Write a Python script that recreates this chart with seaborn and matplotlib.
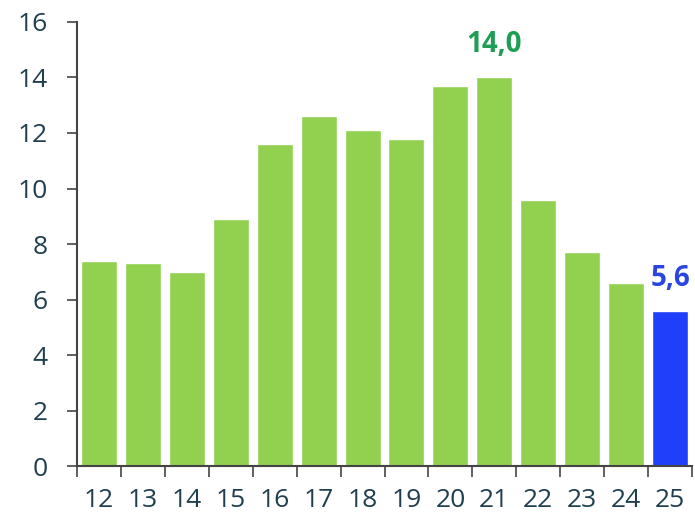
import numpy as np
import pandas as pd
import matplotlib
matplotlib.use("Agg")
import matplotlib.pyplot as plt
import seaborn as sns

# Data
years = ['12', '13', '14', '15', '16', '17', '18', '19', '20', '21', '22', '23', '24', '25']
values = [7.4, 7.3, 7.0, 8.9, 11.6, 12.6, 12.1, 11.8, 13.7, 14.0, 9.6, 7.7, 6.6, 5.6]
kind = ['past'] * 13 + ['current']

green = '#92D050'
blue = '#1F3FFA'
text_col = '#1F3F4F'

sns.set_theme(style="white")
plt.rcParams['font.family'] = ['Open Sans', 'DejaVu Sans']

df = pd.DataFrame({'year': years, 'value': values, 'kind': kind})

fig = plt.figure(figsize=(6.95, 5.15), dpi=100)
ax = fig.add_axes([0.1108, 0.0951, 0.8849, 0.8622])

sns.barplot(data=df, x='year', y='value', hue='kind', order=years,
            palette={'past': green, 'current': blue}, dodge=False,
            width=0.82, saturation=1, legend=False, ax=ax)

ax.set_xlim(-0.5, len(years) - 0.5)
ax.set_ylim(0, 16)
ax.set_yticks(np.arange(0, 17, 2))
ax.set_xlabel('')
ax.set_ylabel('')

# tick marks between categories, labels centred under bars
ax.set_xticks(np.arange(len(years)))
ax.set_xticklabels(years)
ax.set_xticks(np.arange(len(years) + 1) - 0.5, minor=True)
ax.tick_params(axis='x', which='major', length=0, pad=16, labelsize=19, labelcolor=text_col)
ax.tick_params(axis='x', which='minor', length=8, width=1.2, color='#444444', bottom=True)
ax.tick_params(axis='y', length=7, width=1.2, color='#444444', left=True,
               labelsize=19, labelcolor=text_col, pad=14)

for side in ['top', 'right']:
    ax.spines[side].set_visible(False)
for side in ['left', 'bottom']:
    ax.spines[side].set_color('#444444')
    ax.spines[side].set_linewidth(1.5)

# value labels
i_max = int(np.argmax(values))
ax.annotate(f"{values[i_max]:.1f}".replace('.', ','), (i_max, values[i_max]),
            xytext=(0, 24), textcoords='offset points', ha='center', va='center',
            fontsize=20, fontweight='bold', color='#1E9E55')
ax.annotate(f"{values[-1]:.1f}".replace('.', ','), (len(values) - 1, values[-1]),
            xytext=(0, 23), textcoords='offset points', ha='center', va='center',
            fontsize=20, fontweight='bold', color='#2A45E0')

fig.savefig('out.png', dpi=100)
